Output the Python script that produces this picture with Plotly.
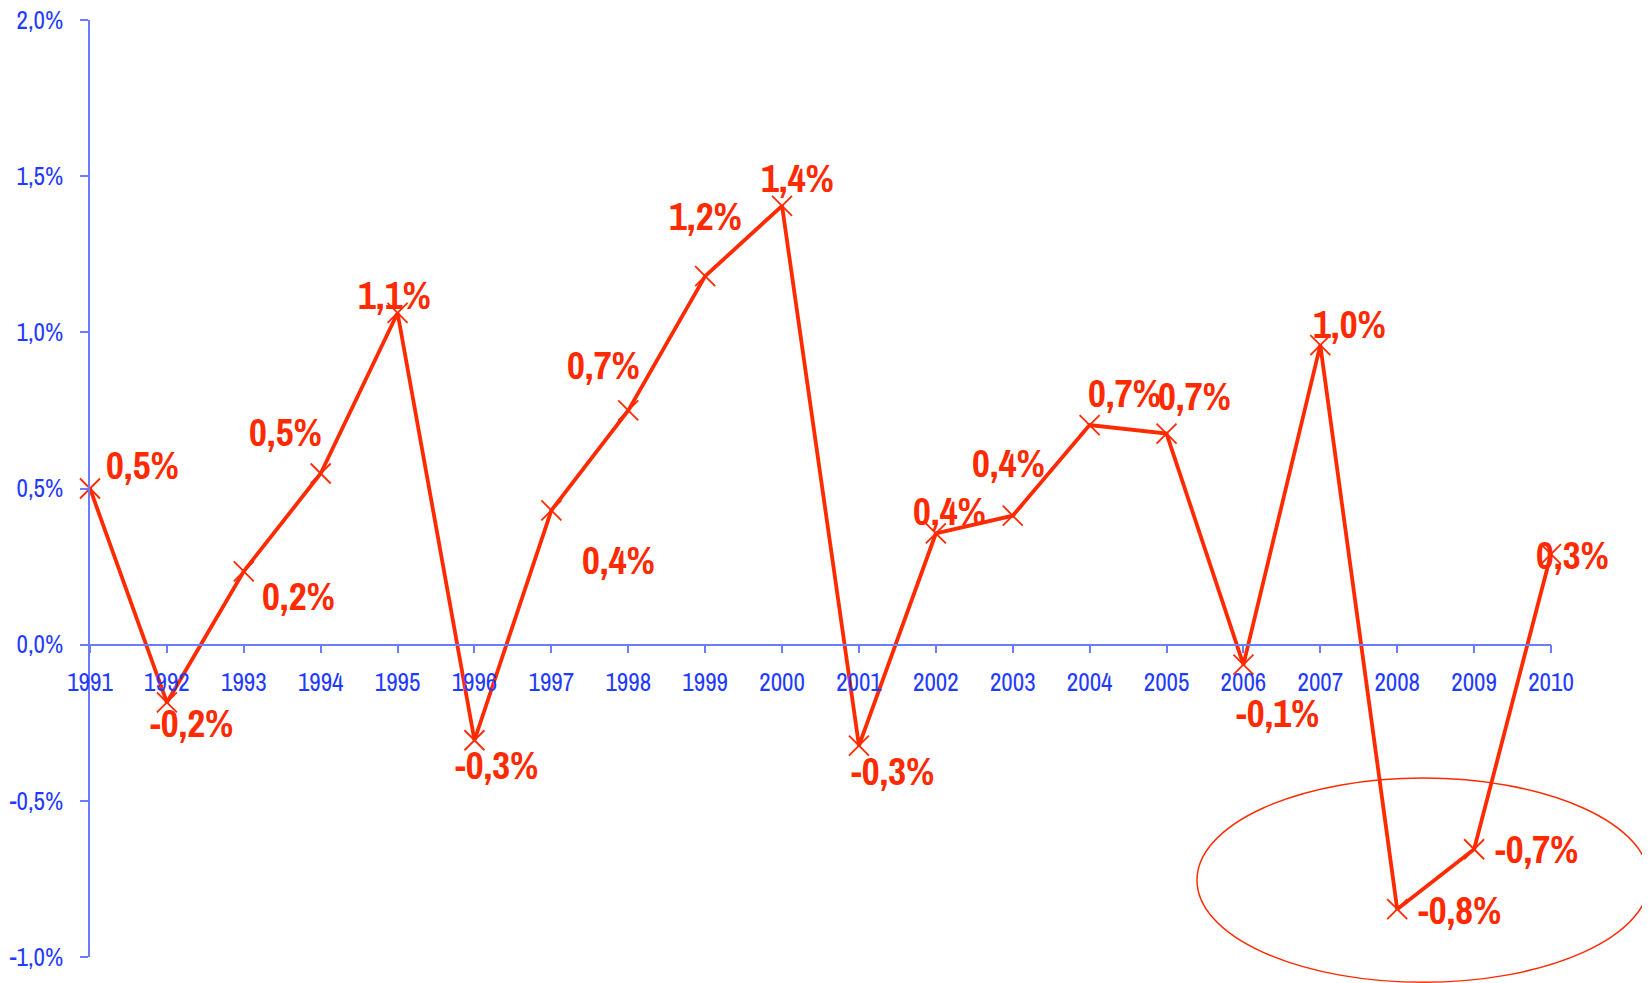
import plotly.graph_objects as go

years = list(range(1991, 2011))
values = [0.50, -0.185, 0.235, 0.548, 1.062, -0.306, 0.43, 0.75, 1.18, 1.405,
          -0.323, 0.356, 0.413, 0.703, 0.676, -0.064, 0.959, -0.847, -0.655, 0.29]
labels = ["0,5%", "-0,2%", "0,2%", "0,5%", "1,1%", "-0,3%", "0,4%", "0,7%", "1,2%", "1,4%",
          "-0,3%", "0,4%", "0,4%", "0,7%", "0,7%", "-0,1%", "1,0%", "-0,8%", "-0,7%", "0,3%"]
y_ticks = [-1.0, -0.5, 0.0, 0.5, 1.0, 1.5, 2.0]

# label offsets (pixels) relative to each point: right, up
label_dx = [52, 25, 55, -35, -3, 23, 67, -25, 0, 15, 34, 14, -4, 35, 28, 35, 29, 63, 63, 21]
label_dy = [24, -21, -25, 42, 18, -25, -50, 45, 60, 28, -25, 22, 53, 32, 38, -48, 21, -1, 0, -1]

RED = "#FF2A00"
BLUE_TXT = "#1F3BFF"
BLUE_LINE = "#6A7CFF"
NARROW = "Archivo Narrow, Liberation Sans, Arial, sans-serif"

fig = go.Figure()
fig.add_trace(go.Scatter(
    x=years, y=values, mode="lines+markers",
    line=dict(color=RED, width=3.8),
    marker=dict(symbol="x-thin", size=20, color=RED, line=dict(color=RED, width=1.8)),
    hoverinfo="skip", showlegend=False, cliponaxis=False,
))

for x, y, t, dx, dy in zip(years, values, labels, label_dx, label_dy):
    fig.add_annotation(x=x, y=y, text=t, showarrow=False, xshift=dx, yshift=dy,
                       font=dict(family=NARROW, size=39, color=RED, weight="bold"))

fig.add_shape(type="circle", xref="paper", yref="paper",
              x0=0.7577, x1=1.0674, y0=-0.027, y1=0.191,
              line=dict(color=RED, width=1.5))

fig.update_layout(
    width=1650, height=983,
    margin=dict(l=82, r=107, t=12, b=34, autoexpand=False),
    plot_bgcolor="white", paper_bgcolor="white",
    xaxis=dict(range=[1991, 2010], tickmode="array", tickvals=years,
               ticktext=[str(y) for y in years],
               anchor="free", position=1/3, automargin=False,
               showline=True, linecolor=BLUE_LINE, linewidth=1.5,
               ticks="outside", ticklen=8, tickcolor=BLUE_LINE, tickwidth=1.5,
               ticklabelstandoff=8, ticklabeloverflow="allow",
               showgrid=False, zeroline=False,
               tickfont=dict(family=NARROW, size=25, color=BLUE_TXT)),
    yaxis=dict(range=[-1.0, 2.0], tickmode="array", tickvals=y_ticks,
               ticktext=[f"{v:.1f}%".replace(".", ",") for v in y_ticks],
               automargin=False, ticklabeloverflow="allow",
               showline=True, linecolor=BLUE_LINE, linewidth=1.5,
               ticks="outside", ticklen=8, tickcolor=BLUE_LINE, tickwidth=1.5,
               ticklabelstandoff=12,
               showgrid=False, zeroline=False,
               tickfont=dict(family=NARROW, size=25, color=BLUE_TXT)),
)

fig.write_html("out.html")
